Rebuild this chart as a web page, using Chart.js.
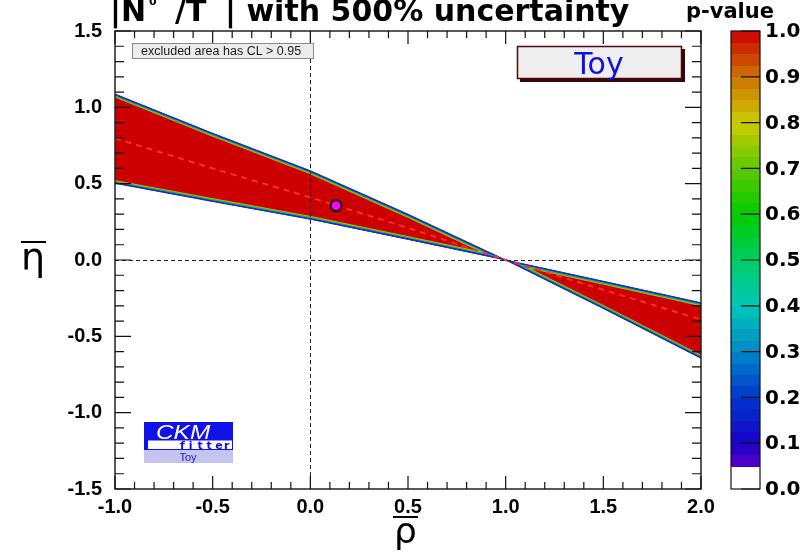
<!DOCTYPE html>
<html><head><meta charset="utf-8">
<script src="https://cdn.jsdelivr.net/npm/chart.js@4.4.1/dist/chart.umd.min.js"></script>
<style>html,body{margin:0;padding:0;background:#fff;}#wrap{width:802px;height:552px;position:relative;}</style>
</head><body><div id="wrap"><canvas id="c" width="802" height="552"></canvas></div>
<script>
// ---- data ----
const rhoValues      = [-1.0, -0.5, 0.0, 0.5, 1.0, 1.5, 2.0];
const etaSteepEdge   = [1.087, 0.83, 0.585, 0.30, 0.0, -0.318, -0.644];
const etaShallowEdge = [0.502, 0.383, 0.267, 0.135, 0.0, -0.139, -0.28];
const etaCentral     = [0.797, 0.60, 0.41, 0.21, 0.0, -0.195, -0.39];
const bestFitRho = [0.132];
const bestFitEta = [0.356];
const xTickValues = [-1.0, -0.5, 0.0, 0.5, 1.0, 1.5, 2.0];
const yTickValues = [-1.5, -1.0, -0.5, 0.0, 0.5, 1.0, 1.5];
const pValueTicks = [0.0, 0.1, 0.2, 0.3, 0.4, 0.5, 0.6, 0.7, 0.8, 0.9, 1.0];
const pValueLabels = ['0.0','0.1','0.2','0.3','0.4','0.5','0.6','0.7','0.8','0.9','1.0'];
const titleLeft = '|N';
const titleMid = '/T';
const titleRight = '| with 500% uncertainty';
const legendNote = 'excluded area has CL > 0.95';
const boxLabel = 'Toy';
const colorbarTitle = 'p-value';

// palette anchors (style)
const paletteAnchors = [
  [0.05,[90,0,200]],[0.1,[25,0,200]],[0.2,[0,55,205]],[0.3,[0,135,200]],[0.4,[0,200,185]],
  [0.5,[0,205,100]],[0.6,[0,205,0]],[0.7,[95,200,0]],[0.8,[205,205,0]],[0.9,[205,115,0]],[1.0,[205,0,0]]
];
function paletteColor(p){
  for(let i=0;i<paletteAnchors.length-1;i++){
    const [p0,c0]=paletteAnchors[i],[p1,c1]=paletteAnchors[i+1];
    if(p<=p1){const t=Math.max(0,(p-p0)/(p1-p0));return 'rgb('+c0.map((v,k)=>Math.round(v+(c1[k]-v)*t)).join(',')+')';}
  }
  return 'rgb(205,0,0)';
}

const toXY = (xs, ys) => xs.map((x, i) => ({x: x, y: ys[i]}));
const SANS = '"Liberation Sans", Arial, sans-serif';
const DJ = '"DejaVu Sans", sans-serif';

function polyPath(ctx, pts){ pts.forEach((p,i)=> i?ctx.lineTo(p.x,p.y):ctx.moveTo(p.x,p.y)); }

const decor = {
  id: 'decor',
  afterDatasetDraw(chart, args){
    if(args.index !== 2) return;
    const ctx = chart.ctx, ca = chart.chartArea;
    const a = chart.getDatasetMeta(2).data, b = chart.getDatasetMeta(3).data;
    ctx.save();
    ctx.beginPath(); ctx.rect(ca.left, ca.top, ca.right-ca.left, ca.bottom-ca.top); ctx.clip();
    ctx.save();
    ctx.beginPath(); polyPath(ctx, a);
    for(let i=b.length-1;i>=0;i--) ctx.lineTo(b[i].x,b[i].y);
    ctx.closePath(); ctx.clip();
    const bands = [['#c8c000',6.5],['#30c000',5],['#00b0b0',3.6],['#1818c8',2.2]];
    ctx.lineJoin='round';
    for(const [c,w] of bands){
      ctx.strokeStyle=c; ctx.lineWidth=w;
      for(const pts of [a,b]){ ctx.beginPath(); polyPath(ctx, pts); ctx.stroke(); }
    }
    ctx.restore();
    ctx.strokeStyle='#2a2ad0'; ctx.lineWidth=1;
    for(const pts of [a,b]){ ctx.beginPath(); polyPath(ctx, pts); ctx.stroke(); }
    ctx.restore();
  },
  afterDatasetsDraw(chart){
    const ctx = chart.ctx, ca = chart.chartArea;
    const xs = chart.scales.x, ys = chart.scales.y;
    const x0 = Math.round(xs.getPixelForValue(0))+0.5, y0 = Math.round(ys.getPixelForValue(0))+0.5;
    ctx.save();
    ctx.strokeStyle='#222'; ctx.lineWidth=1; ctx.setLineDash([4,3]);
    ctx.beginPath(); ctx.moveTo(x0, ca.top); ctx.lineTo(x0, ca.bottom); ctx.stroke();
    ctx.beginPath(); ctx.moveTo(ca.left, y0); ctx.lineTo(ca.right, y0); ctx.stroke();
    ctx.restore();
  },
  afterDraw(chart){
    const ctx = chart.ctx, ca = chart.chartArea;
    const xs = chart.scales.x, ys = chart.scales.y;
    ctx.save();
    // frame
    ctx.strokeStyle='#222'; ctx.lineWidth=1.5;
    ctx.strokeRect(ca.left, ca.top, ca.right-ca.left, ca.bottom-ca.top);
    // ticks
    ctx.lineWidth=1.2; ctx.strokeStyle='#111';
    ctx.beginPath();
    for(let k=-10;k<=20;k++){
      const v=k/10, px=xs.getPixelForValue(v), major=(k%5===0), L=major?13:7;
      ctx.moveTo(px, ca.bottom); ctx.lineTo(px, ca.bottom-L);
      ctx.moveTo(px, ca.top); ctx.lineTo(px, ca.top+L);
    }
    for(let k=-15;k<=15;k++){
      const v=k/10, py=ys.getPixelForValue(v), major=(k%5===0), L=major?16:9;
      ctx.moveTo(ca.left, py); ctx.lineTo(ca.left+L, py);
      ctx.moveTo(ca.right, py); ctx.lineTo(ca.right-L, py);
    }
    ctx.stroke();

    // title (clipped at the top)
    ctx.fillStyle='#000';
    ctx.font='bold 30px '+DJ; ctx.textBaseline='alphabetic'; ctx.textAlign='left';
    ctx.fillText(titleLeft, 110, 21);
    ctx.font='bold 11px '+DJ; ctx.fillText('0', 149, 5);
    ctx.font='bold 30px '+DJ;
    ctx.fillText(titleMid, 175, 21);
    ctx.fillText(titleRight, 225, 21);

    // legend note box
    ctx.fillStyle='#ececec'; ctx.fillRect(132,43,182,15);
    ctx.strokeStyle='#8a8a8a'; ctx.lineWidth=1; ctx.strokeRect(132.5,43.5,181,15);
    ctx.fillStyle='#1a1a1a'; ctx.font='12.5px '+SANS; ctx.fillText(legendNote, 141, 55);

    // Toy box
    ctx.fillStyle='#3a0505'; ctx.fillRect(520,49,165,33);
    ctx.fillStyle='#eeeeee'; ctx.fillRect(517,46,165,33);
    ctx.strokeStyle='#4a0a0a'; ctx.lineWidth=1.5; ctx.strokeRect(517.5,46.5,164,32);
    ctx.fillStyle='#1010e0'; ctx.font='30px '+DJ; ctx.textAlign='center';
    ctx.fillText(boxLabel, 599, 74);

    // CKMfitter logo
    ctx.textAlign='left';
    ctx.fillStyle='#1010e8'; ctx.fillRect(144,422,89,17);
    ctx.fillStyle='#1010e8'; ctx.fillRect(144,439,89,11);
    ctx.fillStyle='#ffffff'; ctx.fillRect(148,440.5,84,8.5);
    ctx.fillStyle='#c4c4ee'; ctx.fillRect(144,450,89,13);
    ctx.save(); ctx.translate(156,438.5); ctx.scale(1.22,1);
    ctx.fillStyle='#ffffff'; ctx.font='italic 20px '+SANS; ctx.fillText('CKM',0,0); ctx.restore();
    ctx.fillStyle='#1010d0'; ctx.font='bold 11px '+DJ;
    'fitter'.split('').forEach((ch,i)=>ctx.fillText(ch, 180+i*8.8, 448.5));
    ctx.fillStyle='#2020b0'; ctx.font='11px '+SANS; ctx.textAlign='center';
    ctx.fillText('Toy', 188, 460.5);

    // colour bar
    const bx0=731, bx1=760;
    const pyOf = p => ys.getPixelForValue(ys.min + (ys.max-ys.min)*p);
    const yTop = pyOf(1), yBot = pyOf(0);
    ctx.fillStyle='#fff'; ctx.fillRect(bx0, yTop, bx1-bx0, yBot-yTop);
    for(let k=2;k<40;k++){
      const p0=k*0.025, p1=(k+1)*0.025;
      ctx.fillStyle=paletteColor((p0+p1)/2);
      const ya=pyOf(p1), yb=pyOf(p0);
      ctx.fillRect(bx0, Math.floor(ya), bx1-bx0, Math.ceil(yb)-Math.floor(ya));
    }
    ctx.strokeStyle='#111'; ctx.lineWidth=1.2;
    ctx.strokeRect(bx0, yTop, bx1-bx0, yBot-yTop);
    ctx.beginPath();
    pValueTicks.forEach(p=>{ const y=pyOf(p); ctx.moveTo(bx1-19,y); ctx.lineTo(bx1,y); });
    ctx.stroke();
    ctx.fillStyle='#000'; ctx.font='bold 20px '+DJ; ctx.textAlign='left'; ctx.textBaseline='middle';
    pValueTicks.forEach((p,i)=> ctx.fillText(pValueLabels[i], 765, pyOf(p)+1));
    ctx.textBaseline='alphabetic'; ctx.textAlign='right'; ctx.font='bold 21px '+DJ;
    ctx.fillText(colorbarTitle, 774, 18);

    // axis titles (with overline)
    ctx.textAlign='left';
    ctx.font='38px '+DJ; ctx.fillText('\u03B7', 21, 270);
    ctx.fillRect(21,241,25,2);
    ctx.font='36px '+DJ; ctx.fillText('\u03C1', 394, 543);
    ctx.fillRect(393,516,25,2);
    ctx.restore();
  }
};

new Chart(document.getElementById('c'), {
  type: 'line',
  data: { datasets: [
    { label:'best fit', data: toXY(bestFitRho, bestFitEta), showLine:false, pointRadius:5.5,
      pointBackgroundColor:'#ff00ff', pointBorderColor:'#000', pointBorderWidth:2 },
    { label:'central', data: toXY(rhoValues, etaCentral), borderColor:'#ff2a2a', borderWidth:2,
      borderDash:[6,5], pointRadius:0, fill:false, tension:0 },
    { label:'steep edge', data: toXY(rhoValues, etaSteepEdge), borderColor:'rgba(0,0,0,0)', borderWidth:0,
      pointRadius:0, fill:'+1', backgroundColor:'#cc0000', tension:0 },
    { label:'shallow edge', data: toXY(rhoValues, etaShallowEdge), borderColor:'rgba(0,0,0,0)', borderWidth:0,
      pointRadius:0, fill:false, tension:0 }
  ]},
  options: {
    responsive:false, animation:false, devicePixelRatio:1,
    layout:{ padding:{ left:0, right:101, top:31, bottom:0 } },
    plugins:{ legend:{display:false}, tooltip:{enabled:false}, title:{display:false} },
    scales:{
      x:{ type:'linear', min:-1, max:2,
        afterFit(s){ s.height = 63; },
        afterBuildTicks(s){ s.ticks = xTickValues.map(v=>({value:v})); },
        ticks:{ callback:v=>Number(v).toFixed(1), color:'#000', padding:6, maxRotation:0, autoSkip:false,
          font:{ family:SANS, size:20, weight:'bold' } },
        grid:{display:false, drawTicks:false}, border:{display:false} },
      y:{ type:'linear', min:-1.5, max:1.5,
        afterFit(s){ s.width = 115; },
        afterBuildTicks(s){ s.ticks = yTickValues.map(v=>({value:v})); },
        ticks:{ callback:v=>Number(v).toFixed(1), color:'#000', padding:13, autoSkip:false,
          font:{ family:SANS, size:20, weight:'bold' } },
        grid:{display:false, drawTicks:false}, border:{display:false} }
    }
  },
  plugins:[decor]
});
</script></body></html>
